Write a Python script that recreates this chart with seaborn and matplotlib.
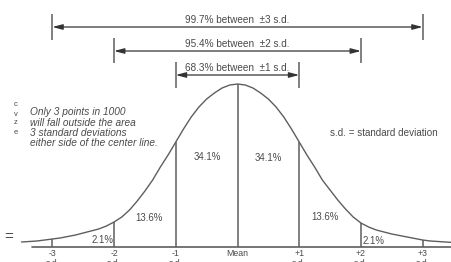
import matplotlib
matplotlib.use("Agg")
import matplotlib.pyplot as plt
import seaborn as sns
import pandas as pd

# curve: height above the base line (pixels) at each s.d. step
sd_x = [-3.5, -3.375, -3.25, -3.125, -3.0, -2.875, -2.75, -2.625, -2.5, -2.375, -2.25, -2.125,
        -2.0, -1.875, -1.75, -1.625, -1.5, -1.375, -1.25, -1.125, -1.0, -0.875, -0.75, -0.625,
        -0.5, -0.375, -0.25, -0.125, 0.0,
        0.125, 0.25, 0.375, 0.5, 0.625, 0.75, 0.875, 1.0, 1.125, 1.25, 1.375, 1.5, 1.625,
        1.75, 1.875, 2.0, 2.125, 2.25, 2.375, 2.5, 2.625, 2.75, 2.875, 3.0, 3.125, 3.25,
        3.375, 3.5]
curve_h = [5, 5.5, 6, 7, 8, 9, 10.5, 12, 14, 16, 18, 21,
           25, 30, 37, 46, 56, 67, 80, 92, 105, 118, 130, 140,
           148, 154, 159, 162, 163,
           162, 159, 154, 148, 140, 130, 118, 105, 92, 80, 67, 57, 47,
           38, 30, 24, 20, 17, 15, 13, 11.5, 10, 8.5, 7, 6, 5.5,
           5, 4.5]

tick_sd = [-3, -2, -1, 0, 1, 2, 3]
tick_labels = ["-3\ns.d.", "-2\ns.d.", "-1\ns.d.", "Mean", "+1\ns.d.", "+2\ns.d.", "+3\ns.d."]

band_sd = [3, 2, 1]
band_labels = ["99.7% between  \u00b13 s.d.", "95.4% between  \u00b12 s.d.", "68.3% between  \u00b11 s.d."]

area_labels = ["2.1%", "13.6%", "34.1%", "34.1%", "13.6%", "2.1%"]
note_lines = ["Only 3 points in 1000", "will fall outside the area",
              "3 standard deviations", "either side of the center line."]

df = pd.DataFrame({"sd": sd_x, "h": curve_h})

# pixel helpers (picture is 451 x 262, base line at y=247, mean at x=237.5)
X0, S, BASE = 237.5, 61.7, 247
def px(x):
    return (x - X0) / S
def py(y):
    return BASE - y

sns.set_style("white")
plt.rcParams['font.family'] = ['Liberation Sans', 'DejaVu Sans']

LC = "#5e5e5e"
TC = "#4a4a4a"

fig = plt.figure(figsize=(4.51, 2.62), dpi=100)
ax = fig.add_axes([0, 0, 1, 1])

sns.lineplot(data=df, x="sd", y="h", ax=ax, color=LC, lw=1.0)

# verticals from base line up to the curve
hmap = dict(zip(sd_x, curve_h))
ax.vlines(tick_sd, 0, [hmap[float(t)] for t in tick_sd], color=LC, lw=1.1)

# base line
ax.plot([px(32), px(460)], [0, 0], color=LC, lw=1.2)

# tick labels (second line is cut by the lower edge, as in the scan)
for t, lab in zip(tick_sd, tick_labels):
    ax.text(t, py(249), lab, ha="center", va="top", fontsize=6.3, color=TC, linespacing=1.1)

# range arrows
arrow_y = [27, 51, 75]
bar_top = [14, 38, 62]
bar_bot = [40, 63, 88]
for k, lab, ay, bt, bb in zip(band_sd, band_labels, arrow_y, bar_top, bar_bot):
    ax.vlines([-k, k], py(bb), py(bt), color=LC, lw=1.1)
    ax.annotate("", xy=(-k, py(ay)), xytext=(k, py(ay)),
                arrowprops=dict(arrowstyle="<|-|>,head_length=0.6,head_width=0.16",
                                color="#333333", lw=0.9, shrinkA=0, shrinkB=0))
    ax.text(0, py(ay - 2), lab, ha="center", va="bottom", fontsize=7.2, color=TC)

# percentages in each band
area_pos = [(103, 240), (149, 218), (207, 157), (268, 158), (325, 217), (374, 241)]
for lab, (x, y) in zip(area_labels, area_pos):
    ax.text(px(x), py(y), lab, ha="center", va="center", fontsize=6.9, color=TC)

# note on the left
for i, line in enumerate(note_lines):
    ax.text(px(30), py(112 + i * 10.5), line, ha="left", va="center",
            fontsize=7.3, style="italic", color=TC)

ax.text(px(330), py(133), "s.d. = standard deviation", ha="left", va="center",
        fontsize=7.1, color=TC)

# cropped label fragments at the left edge
for ch, y in zip(["c", "v", "z", "e"], [104, 114, 123, 132]):
    ax.text(px(16), py(y), ch, ha="center", va="center", fontsize=5.5, color=TC)
ax.text(px(9), py(237), "=", ha="center", va="center", fontsize=11, color=TC)

ax.set_xlim(px(0), px(451))
ax.set_ylim(py(262), py(0))
ax.axis("off")

fig.savefig("out.png", dpi=100, facecolor="white")
plt.close(fig)
